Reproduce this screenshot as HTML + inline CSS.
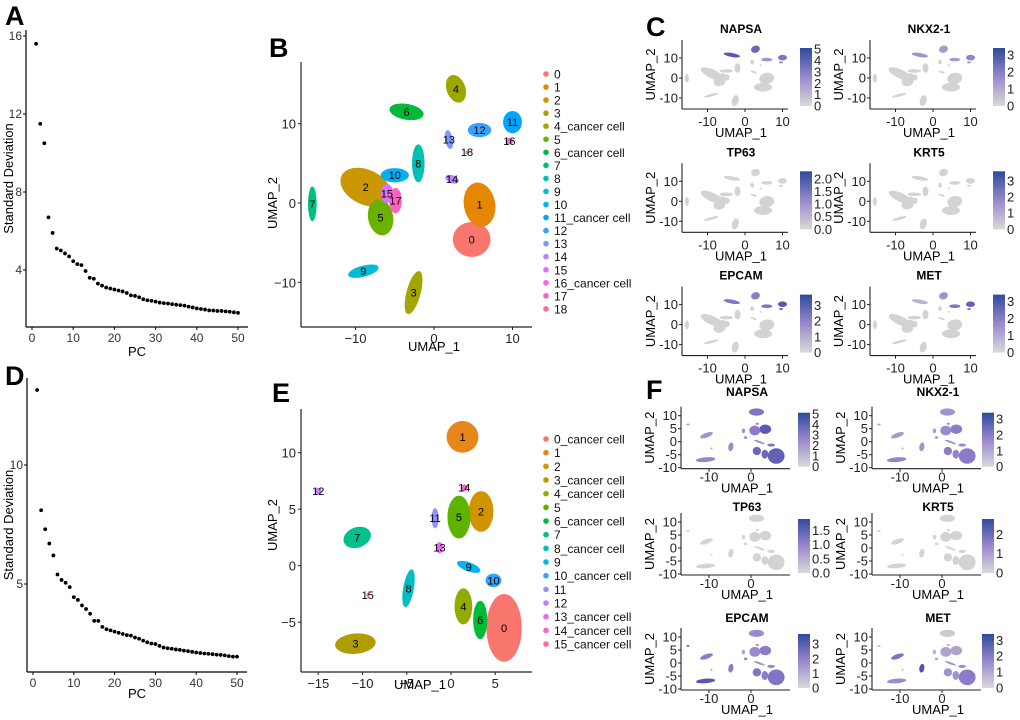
<!DOCTYPE html>
<html><head><meta charset="utf-8"><style>
body{margin:0;background:#fff}
svg{display:block;font-family:"Liberation Sans",Arial,sans-serif}
</style></head><body>
<svg id="fig" width="1020" height="720" viewBox="0 0 1020 720"></svg>
<script>
// ---- Elbow plot data ----
const pcIndex=[];for(let i=1;i<=50;i++)pcIndex.push(i);
const sdA=[15.6,11.5,10.5,6.7,5.9,5.1,5.0,4.85,4.7,4.45,4.3,4.25,3.95,3.6,3.55,3.3,3.2,3.1,3.05,3.0,2.95,2.9,2.82,2.7,2.67,2.6,2.5,2.45,2.42,2.38,2.33,2.3,2.28,2.25,2.22,2.2,2.17,2.12,2.08,2.03,2.0,1.97,1.93,1.92,1.9,1.9,1.88,1.86,1.83,1.8];
const sdD=[13.15,8.1,7.3,6.7,6.2,5.4,5.17,5.05,4.87,4.45,4.33,4.1,3.95,3.75,3.45,3.45,3.2,3.1,3.05,3.0,2.95,2.9,2.85,2.83,2.75,2.7,2.62,2.55,2.5,2.48,2.4,2.33,2.3,2.28,2.25,2.23,2.2,2.18,2.15,2.12,2.1,2.08,2.07,2.05,2.03,2.02,2.0,1.97,1.95,1.95];
const elbowXTicks=[0,10,20,30,40,50];
const elbowATicks=[4,8,12,16];
const elbowDTicks=[5,10];
// ---- UMAP cluster data (panel B) ----
const bNames=["0","1","2","3","4_cancer cell","5","6_cancer cell","7","8","9","10","11_cancer cell","12","13","14","15","16_cancer cell","17","18"];
const bColors=["#F8766D","#E58700","#C99800","#A3A500","#9CA700","#6BB100","#00BA38","#00BF7D","#00C0AF","#00BCD8","#00B0F6","#00A5FF","#35A2FF","#7F96FF","#B983FF","#DC71FA","#F066EA","#FF61C3","#FF6C91"];
const bCX=[4.8,5.8,-8.7,-2.6,2.8,-6.8,-3.5,-15.5,-2.0,-9.0,-5.0,10.0,5.8,1.9,2.3,-6.0,9.6,-4.9,4.2];
const bCY=[-4.6,-0.2,2.0,-11.3,14.4,-1.8,11.5,-0.1,5.0,-8.6,3.5,10.2,9.2,8.0,3.0,1.2,7.8,0.3,6.4];
const bRX=[2.4,2.0,3.4,0.9,1.2,1.6,2.2,0.55,0.8,2.0,1.8,1.2,1.5,0.5,0.9,0.8,0.5,0.8,0.2];
const bRY=[2.2,2.8,2.2,2.8,1.8,2.3,1.0,2.2,2.4,0.7,0.9,1.4,0.9,1.2,0.5,1.2,0.4,1.6,0.2];
const bRot=[0,-10,25,15,-20,-10,10,0,0,-15,0,0,0,-10,20,0,0,0,0];
const bXTicks=[-10,0,10], bYTicks=[-10,0,10];
// ---- UMAP cluster data (panel E) ----
const eNames=["0_cancer cell","1","2","3_cancer cell","4_cancer cell","5","6_cancer cell","7","8_cancer cell","9","10_cancer cell","11","12","13_cancer cell","14_cancer cell","15_cancer cell"];
const eColors=["#F8766D","#E7861B","#CF9400","#B09E00","#93AA00","#5EB300","#00BA38","#00C08B","#00BFC4","#00B4EF","#35A2FF","#9590FF","#C77CFF","#E76BF3","#FD61D1","#FF67A4"];
const eCX=[6.0,1.3,3.4,-10.8,1.4,0.9,3.3,-10.6,-4.8,2.0,4.8,-1.8,-15.0,-1.3,1.5,-9.4];
const eCY=[-5.5,11.4,4.8,-6.9,-3.6,4.3,-4.8,2.5,-2.0,-0.1,-1.3,4.2,6.6,1.6,6.9,-2.6];
const eRX=[2.0,1.8,1.4,2.3,1.0,1.3,0.8,1.6,0.6,1.4,0.9,0.4,0.4,0.4,0.4,0.15];
const eRY=[3.0,1.4,1.8,0.9,1.6,1.9,1.7,0.9,1.7,0.4,0.6,0.9,0.3,0.5,0.3,0.2];
const eRot=[0,0,0,-5,0,0,0,-20,10,20,0,0,0,0,0,0];
const eXTicks=[-15,-10,-5,0,5], eYTicks=[-5,0,5,10];
// ---- Feature expression (0..1 relative) ----
const cGenes=["NAPSA","NKX2-1","TP63","KRT5","EPCAM","MET"];
const cNAPSA=[0,0,0,0,0.7,0,0.8,0,0,0,0,0.6,0.4,0,0,0,0.5,0,0];
const cNKX21=[0,0,0,0,0.35,0,0.4,0,0,0,0,0.5,0.35,0,0,0,0.4,0,0];
const cTP63=[0,0,0,0,0,0,0,0,0,0,0,0,0,0,0,0,0,0,0];
const cKRT5=[0,0,0,0,0,0,0,0,0,0,0,0,0,0,0,0,0,0,0];
const cEPCAM=[0,0,0,0,0.55,0,0.6,0,0,0,0,0.8,0.6,0,0,0,0.7,0,0];
const cMET=[0,0,0,0,0.4,0,0.2,0,0,0,0,0.75,0.6,0,0,0,0.6,0,0];
const fNAPSA=[0.75,0.6,0.8,0.5,0.7,0.55,0.7,0.4,0.45,0.4,0.6,0.4,0.3,0.5,0.5,0.3];
const fNKX21=[0.55,0.4,0.55,0.5,0.55,0.45,0.5,0.35,0.4,0.4,0.45,0.35,0.3,0.4,0.4,0.3];
const fTP63=[0,0,0,0,0,0,0,0,0,0,0,0,0,0,0,0];
const fKRT5=[0,0,0,0,0,0,0,0,0,0,0,0,0,0,0,0];
const fEPCAM=[0.6,0.45,0.55,0.8,0.6,0.45,0.55,0.55,0.55,0.4,0.5,0.3,0.6,0.5,0.4,0.3];
const fMET=[0.55,0.05,0.3,0.45,0.4,0.3,0.4,0.6,0.85,0.4,0.45,0.2,0.1,0.3,0.2,0.2];
const cBarLabels=[["0","1","2","3","4","5"],["0","1","2","3"],["0.0","0.5","1.0","1.5","2.0"],["0","1","2","3"],["0","1","2","3"],["0","1","2","3"]];
const cBarMax=[5.1,3.4,2.3,3.6,3.7,3.4];
const fBarLabels=[["0","1","2","3","4","5"],["0","1","2","3"],["0.0","0.5","1.0","1.5"],["0","1","2"],["0","1","2","3"],["0","1","2","3"]];
const fBarMax=[5.1,3.4,1.9,2.8,3.7,3.4];
const cTickX=[-10,0,10], cTickY=[-10,0,10];
const fTickX=[-10,0], fTickY=[-10,-5,0,5,10];

const NS="http://www.w3.org/2000/svg";
const svg=document.getElementById('fig');
function el(tag,attrs,parent,text){const e=document.createElementNS(NS,tag);for(const k in attrs)e.setAttribute(k,attrs[k]);if(text!==undefined)e.textContent=text;(parent||svg).appendChild(e);return e;}
function grp(name){const g=el('g',{});return g;}
function letter(t,x,y){const e=el('text',{x:x,y:y,'font-size':27,'font-weight':'bold',fill:'#000'},svg,t);}
function expColor(v){const a=[211,211,211],m=[150,130,205],b=[45,62,160];let c;if(v<0.5){const t=v/0.5;c=a.map((x,i)=>x+(m[i]-x)*t);}else{const t=(v-0.5)/0.5;c=m.map((x,i)=>x+(b[i]-x)*t);}return 'rgb('+c.map(Math.round).join(',')+')';}

// ---- Elbow plots ----
function elbow(name,vals,x0,yAxisTop,yAxisBot,xAxisRight,xs,ys,yTicks,xTitleY){
  const g=grp(name);
  const ax=el('line',{x1:x0,y1:yAxisTop,x2:x0,y2:yAxisBot,stroke:'#000','stroke-width':1.2},g);
  
  const bx=el('line',{x1:x0,y1:yAxisBot,x2:xAxisRight,y2:yAxisBot,stroke:'#000','stroke-width':1.2},g);
  
  yTicks.forEach(t=>{const y=ys(t);el('line',{x1:x0-3,y1:y,x2:x0,y2:y,stroke:'#000'},g);
    const tx=el('text',{x:x0-4,y:y+4,'font-size':12,'text-anchor':'end',fill:'#333'},g,t);});
  elbowXTicks.forEach(t=>{const x=xs(t);el('line',{x1:x,y1:yAxisBot,x2:x,y2:yAxisBot+3,stroke:'#000'},g);
    const tx=el('text',{x:x,y:yAxisBot+15,'font-size':12,'text-anchor':'middle',fill:'#333'},g,t);});
  vals.forEach((v,i)=>{const c=el('circle',{cx:xs(pcIndex[i]),cy:ys(v),r:1.9,fill:'#000'},g);});
  const xt=el('text',{x:(x0+xAxisRight)/2,y:xTitleY,'font-size':13,'text-anchor':'middle'},g,'PC');
  const yc=(yAxisTop+yAxisBot)/2;
  const yt=el('text',{x:13,y:yc,'font-size':13,'text-anchor':'middle',transform:'rotate(-90 13 '+yc+')'},g,'Standard Deviation');
}
elbow('elbow-plot-a',sdA,26,30,327,248,v=>32+v*4.12,v=>270-(v-4)*19.5,elbowATicks,356);
elbow('elbow-plot-d',sdD,27,378,672,247,v=>33+v*4.08,v=>584-(v-5)*23.8,elbowDTicks,698);

// ---- UMAP cluster plots ----
function umap(name,cx,cy,rx,ry,rot,colors,names,xs,ys,sx,sy,x0,yTop,yBot,xRight,xTicks,yTicks,legY0,legDy,xTitleX,xTitleY,yTitleY){
  const g=grp(name);
  for(let i=0;i<cx.length;i++){
    const e=el('ellipse',{cx:xs(cx[i]),cy:ys(cy[i]),rx:rx[i]*sx,ry:ry[i]*sy,fill:colors[i],transform:'rotate('+rot[i]+' '+xs(cx[i])+' '+ys(cy[i])+')'},g);
    
  }
  for(let i=0;i<cx.length;i++){
    const t=el('text',{x:xs(cx[i]),y:ys(cy[i])+4,'font-size':11,'text-anchor':'middle',fill:'#000'},g,String(i));
    
  }
  const ya=el('line',{x1:x0,y1:yTop,x2:x0,y2:yBot,stroke:'#222','stroke-width':1.2},g);
  const xa=el('line',{x1:x0,y1:yBot,x2:xRight,y2:yBot,stroke:'#222','stroke-width':1.2},g);
  xTicks.forEach(t=>{const x=xs(t);el('line',{x1:x,y1:yBot,x2:x,y2:yBot+3,stroke:'#222'},g);
    const tx=el('text',{x:x,y:yBot+16,'font-size':13,'text-anchor':'middle',fill:'#222'},g,t<0?'\u2212'+(-t):t);});
  yTicks.forEach(t=>{const y=ys(t);el('line',{x1:x0-3,y1:y,x2:x0,y2:y,stroke:'#222'},g);
    const tx=el('text',{x:x0-5,y:y+5,'font-size':13,'text-anchor':'end',fill:'#222'},g,t<0?'\u2212'+(-t):t);});
  const xt=el('text',{x:xTitleX,y:xTitleY,'font-size':13,'text-anchor':'middle'},g,'UMAP_1');
  const yt=el('text',{x:277,y:yTitleY,'font-size':13,'text-anchor':'middle',transform:'rotate(-90 277 '+yTitleY+')'},g,'UMAP_2');
  const lg=el('g',{},g);
  names.forEach((n,i)=>{const y=legY0+i*legDy;
    const d=el('circle',{cx:546,cy:y,r:2.8,fill:colors[i]},lg);
    const t=el('text',{x:554,y:y+4.5,'font-size':12,fill:'#111'},lg,n);});
}
umap('umap-plot-b',bCX,bCY,bRX,bRY,bRot,bColors,bNames,v=>434+v*7.85,v=>203-v*7.93,7.85,7.93,301,62,327,532,bXTicks,bYTicks,74,13.05,434,351,203);
umap('umap-plot-e',eCX,eCY,eRX,eRY,eRot,eColors,eNames,v=>451+v*8.85,v=>565.7-v*11.3,8.85,11.3,301,409,672,532,eXTicks,eYTicks,439,13.67,420,689,525);

// ---- Feature plots ----
function feature(name,gene,expr,cx,cy,rx,ry,rot,ox,oy,sx,sy,x0,yTop,yBot,xRight,xTicks,yTicks,titleY,barX,barTop,barBot,barLabels,barMax,tickOff,titleOff){
  const g=grp(name);
  const xs=v=>ox+v*sx, ys=v=>oy-v*sy;
  const t=el('text',{x:ox-4,y:titleY,'font-size':12,'font-weight':'bold','text-anchor':'middle'},g,gene);
  for(let i=0;i<cx.length;i++){
    const e=el('ellipse',{cx:xs(cx[i]),cy:ys(cy[i]),rx:Math.max(rx[i]*sx,1),ry:Math.max(ry[i]*sy,1),fill:expColor(expr[i]),transform:'rotate('+rot[i]+' '+xs(cx[i])+' '+ys(cy[i])+')'},g);
    
  }
  el('line',{x1:x0,y1:yTop,x2:x0,y2:yBot,stroke:'#222','stroke-width':1.1},g);
  el('line',{x1:x0,y1:yBot,x2:xRight,y2:yBot,stroke:'#222','stroke-width':1.1},g);
  xTicks.forEach(v=>{const x=xs(v);el('line',{x1:x,y1:yBot,x2:x,y2:yBot+3,stroke:'#222'},g);
    const tx=el('text',{x:x,y:yBot+tickOff,'font-size':13,'text-anchor':'middle',fill:'#222'},g,v);});
  yTicks.forEach(v=>{const y=ys(v);el('line',{x1:x0-3,y1:y,x2:x0,y2:y,stroke:'#222'},g);
    const tx=el('text',{x:x0-4,y:y+4.5,'font-size':13,'text-anchor':'end',fill:'#222'},g,v);});
  const xt=el('text',{x:ox-4,y:yBot+titleOff,'font-size':13,'text-anchor':'middle'},g,'UMAP_1');
  const yx=x0-27,yc=(yTop+yBot)/2;
  const yt=el('text',{x:yx,y:yc,'font-size':13,'text-anchor':'middle',transform:'rotate(-90 '+yx+' '+yc+')'},g,'UMAP_2');
  const gid='grad'+name;
  const defs=el('defs',{},g);const lg=el('linearGradient',{id:gid,x1:0,y1:1,x2:0,y2:0},defs);
  el('stop',{offset:'0','stop-color':'#D9D9D9'},lg);el('stop',{offset:'0.5','stop-color':'#9A88CC'},lg);el('stop',{offset:'1','stop-color':'#2E4A9E'},lg);
  const r=el('rect',{x:barX,y:barTop,width:12,height:barBot-barTop,fill:'url(#'+gid+')'},g);
  barLabels.forEach(l=>{const y=barBot-parseFloat(l)/barMax*(barBot-barTop);
    const tx=el('text',{x:barX+14,y:y+4.5,'font-size':13,fill:'#222'},g,l);});
}
const cExpr=[cNAPSA,cNKX21,cTP63,cKRT5,cEPCAM,cMET];
const fExpr=[fNAPSA,fNKX21,fTP63,fKRT5,fEPCAM,fMET];
for(let k=0;k<6;k++){
  const c=k%2,r=Math.floor(k/2);
  const dx=188*c, dy=123.3*r;
  feature('feature-c-'+cGenes[k].toLowerCase(),cGenes[k],cExpr[k],bCX,bCY,bRX,bRY,bRot,745+dx,78+dy,3.75,2.0,682+dx,40+dy,109+dy,788+dx,cTickX,cTickY,33+dy,800+193*c,48+dy,106+dy,cBarLabels[k],cBarMax[k],17,28);
}
const fOY=[441.7,548,663];
const fTitleY=[396,511,622];
for(let k=0;k<6;k++){
  const c=k%2,r=Math.floor(k/2);
  const dx=191*c, oy=fOY[r];
  feature('feature-f-'+cGenes[k].toLowerCase(),cGenes[k],fExpr[k],eCX,eCY,eRX,eRY,eRot,751+dx,oy,4.2,2.6,681+dx,oy-35,oy+27,790+dx,fTickX,fTickY,fTitleY[r],798+184*c,oy-29,oy+25,fBarLabels[k],fBarMax[k],13,24);
}
letter('A',5,25);letter('B',269,57);letter('C',646,36);letter('D',5,385);letter('E',272,402);letter('F',646,399);
</script>
</body></html>
